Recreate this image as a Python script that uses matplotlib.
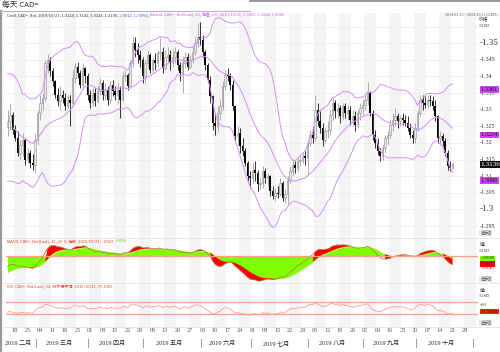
import numpy as np
import pandas as pd
import matplotlib
matplotlib.use('Agg')
import matplotlib.pyplot as plt
import matplotlib.transforms as mtransforms
from matplotlib.lines import Line2D

# daily candles, one per weekday, 2019/02/13 .. 2019/10/21
opens = [
    1.3255, 1.3262, 1.3285,
    1.3240, 1.3215, 1.3170, 1.3195, 1.3210,
    1.3150, 1.3170, 1.3140, 1.3135, 1.3210,
    1.3290, 1.3320, 1.3335, 1.3440, 1.3450,
    1.3415, 1.3385, 1.3345, 1.3325, 1.3345,
    1.3335, 1.3310, 1.3330, 1.3320, 1.3395,
    1.3430, 1.3410, 1.3375, 1.3425, 1.3400,
    1.3345, 1.3320, 1.3350, 1.3325, 1.3355,
    1.3380, 1.3345, 1.3360, 1.3330, 1.3375,
    1.3355, 1.3345, 1.3360, 1.3330, 1.3400,
    1.3405, 1.3370, 1.3440, 1.3500, 1.3480,
    1.3465, 1.3450, 1.3400, 1.3440, 1.3465,
    1.3420, 1.3450, 1.3440, 1.3470, 1.3475,
    1.3425, 1.3460, 1.3465, 1.3440, 1.3460,
    1.3475, 1.3435, 1.3410, 1.3440, 1.3460,
    1.3430, 1.3450, 1.3475, 1.3500, 1.3520,
    1.3510, 1.3475, 1.3435, 1.3390, 1.3340,
    1.3260, 1.3250, 1.3290, 1.3310, 1.3370,
    1.3405, 1.3400, 1.3375, 1.3310, 1.3220,
    1.3230, 1.3190, 1.3175, 1.3140, 1.3100,
    1.3095, 1.3120, 1.3110, 1.3075, 1.3080,
    1.3115, 1.3095, 1.3100, 1.3055, 1.3040,
    1.3050, 1.3045, 1.3080, 1.3035, 1.3045,
    1.3090, 1.3115, 1.3135, 1.3125, 1.3145,
    1.3150, 1.3160, 1.3155, 1.3200, 1.3225,
    1.3215, 1.3300, 1.3265, 1.3245, 1.3210,
    1.3235, 1.3240, 1.3285, 1.3320, 1.3295,
    1.3305, 1.3280, 1.3310, 1.3290, 1.3300,
    1.3270, 1.3280, 1.3255, 1.3290, 1.3305,
    1.3315, 1.3330, 1.3350, 1.3290, 1.3225,
    1.3200, 1.3175, 1.3160, 1.3185, 1.3215,
    1.3225, 1.3255, 1.3270, 1.3280, 1.3265,
    1.3275, 1.3270, 1.3260, 1.3245, 1.3225,
    1.3215, 1.3245, 1.3290, 1.3330, 1.3320,
    1.3315, 1.3330, 1.3325, 1.3310, 1.3280,
    1.3215, 1.3220, 1.3205, 1.3170, 1.3130,
    1.3124,
]
highs = [
    1.3300, 1.3320, 1.3292,
    1.3255, 1.3235, 1.3210, 1.3230, 1.3215,
    1.3185, 1.3178, 1.3168, 1.3230, 1.3300,
    1.3345, 1.3350, 1.3450, 1.3467, 1.3460,
    1.3425, 1.3390, 1.3365, 1.3370, 1.3360,
    1.3350, 1.3345, 1.3345, 1.3420, 1.3440,
    1.3445, 1.3420, 1.3440, 1.3430, 1.3410,
    1.3360, 1.3365, 1.3365, 1.3370, 1.3395,
    1.3390, 1.3380, 1.3370, 1.3385, 1.3390,
    1.3370, 1.3380, 1.3370, 1.3415, 1.3420,
    1.3410, 1.3450, 1.3520, 1.3520, 1.3500,
    1.3480, 1.3460, 1.3450, 1.3480, 1.3470,
    1.3460, 1.3470, 1.3480, 1.3520, 1.3490,
    1.3480, 1.3490, 1.3480, 1.3480, 1.3490,
    1.3480, 1.3445, 1.3460, 1.3475, 1.3470,
    1.3465, 1.3490, 1.3520, 1.3560, 1.3565,
    1.3525, 1.3480, 1.3440, 1.3400, 1.3345,
    1.3290, 1.3310, 1.3330, 1.3385, 1.3420,
    1.3425, 1.3410, 1.3390, 1.3315, 1.3250,
    1.3245, 1.3215, 1.3185, 1.3145, 1.3115,
    1.3140, 1.3145, 1.3120, 1.3095, 1.3130,
    1.3125, 1.3110, 1.3105, 1.3070, 1.3065,
    1.3070, 1.3095, 1.3085, 1.3060, 1.3100,
    1.3130, 1.3150, 1.3145, 1.3155, 1.3165,
    1.3170, 1.3175, 1.3210, 1.3240, 1.3250,
    1.3345, 1.3320, 1.3295, 1.3260, 1.3245,
    1.3265, 1.3300, 1.3335, 1.3330, 1.3320,
    1.3315, 1.3320, 1.3320, 1.3315, 1.3310,
    1.3300, 1.3295, 1.3300, 1.3320, 1.3330,
    1.3345, 1.3383, 1.3355, 1.3300, 1.3240,
    1.3215, 1.3185, 1.3195, 1.3225, 1.3235,
    1.3270, 1.3290, 1.3305, 1.3290, 1.3285,
    1.3290, 1.3285, 1.3280, 1.3260, 1.3240,
    1.3260, 1.3300, 1.3345, 1.3345, 1.3340,
    1.3345, 1.3345, 1.3340, 1.3330, 1.3285,
    1.3235, 1.3230, 1.3215, 1.3180, 1.3145,
    1.3142,
]
lows = [
    1.3220, 1.3240, 1.3228,
    1.3205, 1.3160, 1.3150, 1.3160, 1.3135,
    1.3140, 1.3125, 1.3118, 1.3110, 1.3195,
    1.3270, 1.3300, 1.3325, 1.3410, 1.3400,
    1.3370, 1.3335, 1.3310, 1.3300, 1.3320,
    1.3300, 1.3305, 1.3250, 1.3310, 1.3380,
    1.3395, 1.3365, 1.3365, 1.3380, 1.3330,
    1.3305, 1.3310, 1.3310, 1.3320, 1.3345,
    1.3330, 1.3330, 1.3315, 1.3320, 1.3340,
    1.3330, 1.3320, 1.3275, 1.3325, 1.3385,
    1.3360, 1.3365, 1.3430, 1.3460, 1.3440,
    1.3430, 1.3380, 1.3380, 1.3425, 1.3410,
    1.3410, 1.3420, 1.3430, 1.3450, 1.3410,
    1.3420, 1.3445, 1.3420, 1.3430, 1.3440,
    1.3420, 1.3385, 1.3350, 1.3425, 1.3420,
    1.3425, 1.3440, 1.3465, 1.3490, 1.3495,
    1.3460, 1.3420, 1.3380, 1.3320, 1.3240,
    1.3225, 1.3235, 1.3270, 1.3300, 1.3360,
    1.3385, 1.3360, 1.3300, 1.3205, 1.3195,
    1.3170, 1.3160, 1.3130, 1.3085, 1.3065,
    1.3080, 1.3085, 1.3055, 1.3060, 1.3065,
    1.3080, 1.3070, 1.3040, 1.3030, 1.3025,
    1.3035, 1.3040, 1.3025, 1.3018, 1.3015,
    1.3080, 1.3105, 1.3110, 1.3115, 1.3130,
    1.3140, 1.3135, 1.3105, 1.3190, 1.3200,
    1.3205, 1.3250, 1.3230, 1.3190, 1.3200,
    1.3215, 1.3225, 1.3270, 1.3275, 1.3275,
    1.3260, 1.3270, 1.3275, 1.3270, 1.3255,
    1.3250, 1.3235, 1.3245, 1.3270, 1.3285,
    1.3300, 1.3315, 1.3280, 1.3210, 1.3185,
    1.3165, 1.3145, 1.3150, 1.3170, 1.3195,
    1.3215, 1.3235, 1.3255, 1.3245, 1.3250,
    1.3255, 1.3250, 1.3235, 1.3215, 1.3200,
    1.3200, 1.3235, 1.3280, 1.3300, 1.3305,
    1.3305, 1.3310, 1.3300, 1.3265, 1.3200,
    1.3200, 1.3190, 1.3160, 1.3120, 1.3115,
    1.3124,
]
closes = [
    1.3262, 1.3285, 1.3240,
    1.3215, 1.3170, 1.3195, 1.3210, 1.3150,
    1.3170, 1.3140, 1.3135, 1.3210, 1.3290,
    1.3320, 1.3335, 1.3440, 1.3450, 1.3415,
    1.3385, 1.3345, 1.3325, 1.3345, 1.3335,
    1.3310, 1.3330, 1.3320, 1.3395, 1.3430,
    1.3410, 1.3375, 1.3425, 1.3400, 1.3345,
    1.3320, 1.3350, 1.3325, 1.3355, 1.3380,
    1.3345, 1.3360, 1.3330, 1.3375, 1.3355,
    1.3345, 1.3360, 1.3330, 1.3400, 1.3405,
    1.3370, 1.3440, 1.3500, 1.3480, 1.3465,
    1.3450, 1.3400, 1.3440, 1.3465, 1.3420,
    1.3450, 1.3440, 1.3470, 1.3475, 1.3425,
    1.3460, 1.3465, 1.3440, 1.3460, 1.3475,
    1.3435, 1.3410, 1.3440, 1.3460, 1.3430,
    1.3450, 1.3475, 1.3500, 1.3520, 1.3510,
    1.3475, 1.3435, 1.3390, 1.3340, 1.3260,
    1.3250, 1.3290, 1.3310, 1.3370, 1.3405,
    1.3400, 1.3375, 1.3310, 1.3220, 1.3230,
    1.3190, 1.3175, 1.3140, 1.3100, 1.3095,
    1.3120, 1.3110, 1.3075, 1.3080, 1.3115,
    1.3095, 1.3100, 1.3055, 1.3040, 1.3050,
    1.3045, 1.3080, 1.3035, 1.3045, 1.3090,
    1.3115, 1.3135, 1.3125, 1.3145, 1.3150,
    1.3160, 1.3155, 1.3200, 1.3225, 1.3215,
    1.3300, 1.3265, 1.3245, 1.3210, 1.3235,
    1.3240, 1.3285, 1.3320, 1.3295, 1.3305,
    1.3280, 1.3310, 1.3290, 1.3300, 1.3270,
    1.3280, 1.3255, 1.3290, 1.3305, 1.3315,
    1.3330, 1.3350, 1.3290, 1.3225, 1.3200,
    1.3175, 1.3160, 1.3185, 1.3215, 1.3225,
    1.3255, 1.3270, 1.3280, 1.3265, 1.3275,
    1.3270, 1.3260, 1.3245, 1.3225, 1.3215,
    1.3245, 1.3290, 1.3330, 1.3320, 1.3315,
    1.3330, 1.3325, 1.3310, 1.3280, 1.3215,
    1.3220, 1.3205, 1.3170, 1.3130, 1.3125,
    1.3136,
]
# closes 2019/01/02 .. 2019/02/12, only there so the indicators are warmed up
warmup_closes = [
    1.3595, 1.3490, 1.3400,
    1.3325, 1.3310, 1.3240, 1.3220, 1.3265,
    1.3275, 1.3265, 1.3275, 1.3280, 1.3275,
    1.3300, 1.3345, 1.3350, 1.3365, 1.3205,
    1.3285, 1.3265, 1.3180, 1.3130, 1.3105,
    1.3095, 1.3125, 1.3205, 1.3285, 1.3300,
    1.3315, 1.3255,
]

week_labels = ['18', '25', '04', '11', '18', '25', '01', '08', '15', '22', '29',
               '06', '13', '20', '27', '03', '10', '17', '24', '01', '08', '15',
               '22', '29', '05', '12', '19', '26', '02', '09', '16', '23', '30',
               '07', '14', '21', '28']
month_labels = ['2019 二月', '2019 三月', '2019 四月', '2019 五月', '2019 六月',
                '2019 七月', '2019 八月', '2019 九月', '2019 十月']
bband_last = [1.3361, 1.3224, 1.3086]
last_close = 1.3136
macd_last = -0.0027
signal_last = -0.0008
rsi_last = 37.19

W, H = 500, 352
CJK = ['Noto Sans CJK SC', 'DejaVu Sans']
SERIF = ['Liberation Serif', 'Noto Sans CJK SC']


def fx(px):
    return px / W


def fy(py):
    return 1 - py / H


n = len(closes)
idx = np.arange(n)
o = np.array(opens)
h = np.array(highs)
l = np.array(lows)
c = np.array(closes)

# indicators from the closes
s = pd.Series(warmup_closes + closes)
mid = s.rolling(20).mean()
sd = s.rolling(20).std(ddof=0)
bb_mid = mid.values[-n:]
bb_up = (mid + 2 * sd).values[-n:]
bb_lo = (mid - 2 * sd).values[-n:]
macd_all = s.ewm(span=12, adjust=False).mean() - s.ewm(span=26, adjust=False).mean()
sig_all = macd_all.ewm(span=9, adjust=False).mean()
macd = macd_all.values[-n:]
sig = sig_all.values[-n:]
d = s.diff()
gain = d.clip(lower=0).ewm(alpha=1 / 14, adjust=False).mean()
loss = (-d.clip(upper=0)).ewm(alpha=1 / 14, adjust=False).mean()
rsi = (100 - 100 / (1 + gain / loss)).values[-n:]

# calendar for the axis (runs on past the data to the right edge)
cal = pd.bdate_range('2019-02-13', '2019-11-01')
mondays = [i for i, dd in enumerate(cal) if dd.weekday() == 0]
month_starts = [i for i in range(1, len(cal)) if cal[i].month != cal[i - 1].month]

fig = plt.figure(figsize=(5, 3.52), dpi=100)
fig.patch.set_facecolor('white')

x_left, x_right = 6, 478
ax = fig.add_axes([fx(x_left), fy(238), fx(x_right - x_left), (238 - 13) / H])
ax2 = fig.add_axes([fx(x_left), fy(283), fx(x_right - x_left), 45 / H])
ax3 = fig.add_axes([fx(x_left), fy(327), fx(x_right - x_left), 44 / H])

for a in (ax, ax2, ax3):
    a.set_xlim(-0.6, 188.2)
    for k, m in enumerate(mondays):
        if k % 2 == 0:
            a.axvspan(m - 0.5, m + 4.5, color='#f4f4f4', lw=0, zorder=0)
    a.set_xticks([])
    a.set_yticks([])
    for sp in a.spines.values():
        sp.set_visible(False)
    a.patch.set_alpha(0)

# main price panel
ax.set_ylim(1.2914, 1.3591)
for v in np.arange(1.295, 1.3551, 0.005):
    ax.axhline(v, color='#ececec', lw=0.5, zorder=0.5)
up = c >= o
ax.vlines(idx[up], l[up], h[up], color='#a0a0a0', lw=0.6, zorder=2)
ax.vlines(idx[~up], l[~up], h[~up], color='#111111', lw=0.6, zorder=2)
ax.bar(idx[up], c[up] - o[up], bottom=o[up], width=0.7, color='#ececec',
       edgecolor='#8c8c8c', lw=0.4, zorder=3)
ax.bar(idx[~up], c[~up] - o[~up], bottom=o[~up], width=0.7, color='black',
       lw=0, zorder=3)
for band in (bb_up, bb_mid, bb_lo):
    ax.plot(idx, band, color='#d98cff', lw=0.7, zorder=4)

# MACD panel
ax2.set_ylim(-0.009, 0.006)
ax2.fill_between(idx, 0, sig, color='#80ff00', lw=0, zorder=1)
ax2.fill_between(idx, sig, macd, where=np.abs(macd) > np.abs(sig),
                 interpolate=True, color='#ff0000', lw=0, zorder=1)
ax2.plot(idx, macd, color='#b08040', lw=0.6, zorder=2)
ax2.axhline(0, color='#ff9c80', lw=0.9, zorder=3)

# RSI panel
ax3.set_ylim(-13.3, 133.3)
ax3.axhline(70, color='#ff9c8c', lw=0.9)
ax3.axhline(30, color='#ff9c8c', lw=0.9)
ax3.plot(idx, rsi, color='#ff9c88', lw=0.6)

# panel separators and frame
for py in (238, 283, 327):
    fig.add_artist(Line2D([fx(3), fx(500)], [fy(py), fy(py)], color='#e2e2e2', lw=0.6))
fig.add_artist(Line2D([fx(1), fx(1)], [fy(11), fy(352)], color='#9a9a9a', lw=1.6))
fig.add_artist(Line2D([0, fx(250)], [fy(11), fy(11)], color='#b4b4b4', lw=0.8))
fig.add_artist(Line2D([fx(250), 1], [fy(0.8), fy(0.8)], color='#9a9a9a', lw=1.4))

# right side labels, main panel
lab_x = 1.003
tr = mtransforms.blended_transform_factory(ax.transAxes, ax.transData)
for v in np.arange(1.295, 1.3501, 0.005):
    big = abs(v - 1.35) < 1e-6 or abs(v - 1.30) < 1e-6
    txt = '-' + ('%.3f' % v).rstrip('0').rstrip('.')
    ax.text(lab_x, v, txt, transform=tr, fontsize=6.5 if big else 4.3,
            family=SERIF, color='#333333', va='center', ha='left')
for v in bband_last:
    ax.text(lab_x + 0.003, v, '%.4f' % v, transform=tr, fontsize=4.6, family=SERIF,
            color='#111111', va='center', ha='left',
            bbox=dict(boxstyle='square,pad=0.15', fc='#cc44ee', ec='none'))
ax.text(lab_x + 0.003, last_close, '%.4f' % last_close, transform=tr, fontsize=5.2,
        family=SERIF, color='white', va='center', ha='left',
        bbox=dict(boxstyle='square,pad=0.15', fc='#111111', ec='none'))
fig.text(fx(479), fy(20), '价格', fontsize=3.4, family=CJK, color='#333333', va='center')
fig.text(fx(479), fy(26), '/USD', fontsize=3.2, family=SERIF, color='#333333', va='center')
fig.text(fx(480), fy(233), '自动', fontsize=4, family=CJK, color='#555555', va='center',
         bbox=dict(boxstyle='square,pad=0.1', fc='#e6e6e6', ec='none'))

# right side labels, MACD panel
tr2 = mtransforms.blended_transform_factory(ax2.transAxes, ax2.transData)
fig.text(fx(480), fy(245), '值', fontsize=3.6, family=CJK, color='#333333', va='center')
fig.text(fx(479), fy(251), '/USD', fontsize=3.2, family=SERIF, color='#333333', va='center')
ax2.text(lab_x + 0.003, -0.004, '-.0040', transform=tr2, fontsize=3.8, family=SERIF,
         color='#444444', va='center')
ax2.text(lab_x + 0.003, signal_last, '-.0008', transform=tr2, fontsize=3.8, family=SERIF,
         color='#333333', va='center',
         bbox=dict(boxstyle='square,pad=0.12', fc='#80ff00', ec='none'))
ax2.text(lab_x + 0.003, macd_last, '-.0027', transform=tr2, fontsize=3.8, family=SERIF,
         color='#333333', va='center',
         bbox=dict(boxstyle='square,pad=0.12', fc='#ff0000', ec='none'))
fig.text(fx(480), fy(279), '自动', fontsize=4, family=CJK, color='#555555', va='center',
         bbox=dict(boxstyle='square,pad=0.1', fc='#e6e6e6', ec='none'))

# right side labels, RSI panel
tr3 = mtransforms.blended_transform_factory(ax3.transAxes, ax3.transData)
fig.text(fx(480), fy(290), '值', fontsize=3.6, family=CJK, color='#333333', va='center')
fig.text(fx(479), fy(296), '/USD', fontsize=3.2, family=SERIF, color='#333333', va='center')
ax3.text(lab_x, 60, '-60', transform=tr3, fontsize=3.8, family=SERIF, color='#444444',
         va='center')
ax3.text(lab_x + 0.003, rsi_last, '%.4f' % rsi_last, transform=tr3, fontsize=3.8,
         family=SERIF, color='#222222', va='center',
         bbox=dict(boxstyle='square,pad=0.12', fc='#ff2000', ec='none'))
fig.text(fx(480), fy(323), '自动', fontsize=4, family=CJK, color='#555555', va='center',
         bbox=dict(boxstyle='square,pad=0.1', fc='#e6e6e6', ec='none'))

# date axis
trx = mtransforms.blended_transform_factory(ax3.transData, fig.transFigure)
for m, lab in zip(mondays, week_labels):
    fig.text(m, fy(331), lab, transform=trx, fontsize=4.4, family=SERIF,
             color='#555555', ha='center', va='center')
bounds = month_starts
for b in bounds:
    fig.text(b - 0.5, fy(343), '|', transform=trx, fontsize=5.5, color='#666666',
             ha='center', va='center')
fig.text(fx(5), fy(343), month_labels[0], fontsize=4.4, family=SERIF, color='#222222',
         ha='left', va='center')
for k in range(1, len(month_labels)):
    centre = (bounds[k - 1] + bounds[k]) / 2 - 2.0
    fig.text(centre, fy(343), month_labels[k], transform=trx, fontsize=4.4,
             family=SERIF, color='#222222', ha='center', va='center')

# header
fig.text(fx(2), fy(5), '每天 CAD=', fontsize=5.6, family=CJK, color='#333333', va='center')
fig.text(fx(498), fy(14.5), '2019/02/13 - 2019/11/21 (GMT)', fontsize=3.0, family=SERIF,
         color='#555555', va='center', ha='right')

renderer = fig.canvas.get_renderer()


def colour_line(x_px, y_px, parts, size):
    x = fx(x_px)
    for txt, col in parts:
        t = fig.text(x, fy(y_px), txt, fontsize=size, family=CJK, color=col, va='center')
        x += t.get_window_extent(renderer).width / W


colour_line(7, 15.5, [
    ('Cndl, CAD=, Bid, 2019/10/21, 1.3124, 1.3142, 1.3124, 1.3136, ', '#333333'),
    ('+.0012, (+.09%), ', '#3355ee'),
    ('Bband, CAD=, Bid(Last), 20, 偏差, 2.0, 2019/10/21, 1.3361, 1.3224, 1.3086', '#cc55ff'),
], 2.9)
colour_line(7, 241, [
    ('MACD, CAD=, Bid(Last), 12, 26, 9, 指数, 2019/10/21, -.0027, ', '#ee3322'),
    ('-.0008', '#66dd00'),
], 2.9)
colour_line(7, 287, [
    ('RSI, CAD=, Bid(Last), 14, 威尔德平滑, 2019/10/21, 37.1900', '#ee4433'),
], 2.9)

fig.savefig('out.png', dpi=100)
